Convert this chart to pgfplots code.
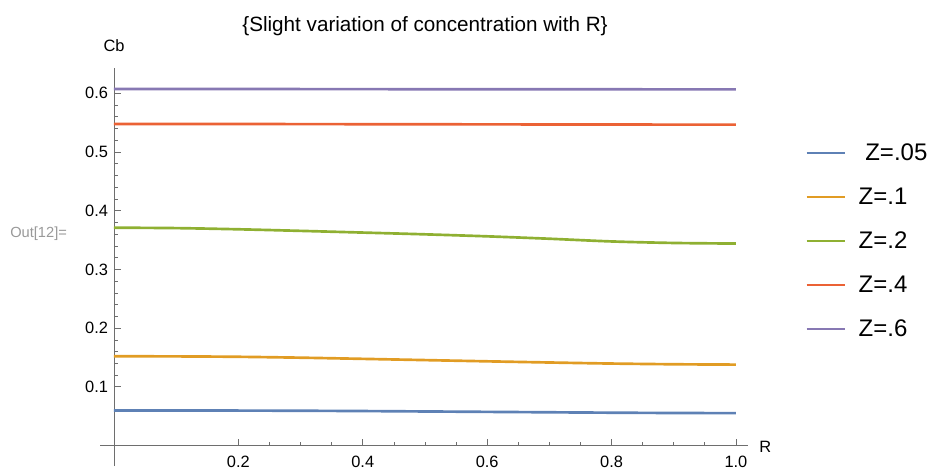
\documentclass[border=0pt]{standalone}
\usepackage{pgfplots}
\pgfplotsset{compat=1.18}
\usepackage{fontspec}
\setmainfont{Liberation Sans}

\definecolor{mblue}{HTML}{5E81B5}
\definecolor{morange}{HTML}{E19C24}
\definecolor{mgreen}{HTML}{8FB032}
\definecolor{mred}{HTML}{EB6235}
\definecolor{mpurple}{HTML}{8778B3}
\definecolor{axgray}{HTML}{6E6E6E}

\begin{document}
\begin{tikzpicture}
\useasboundingbox (0,0) rectangle (698.25pt,351.75pt);
\node[font=\fontsize{11}{13}\selectfont, text=black!40, anchor=west, inner sep=0pt] at (7.5pt,176.5pt) {Out[12]=};
\begin{axis}[
  at={(75pt,2.25pt)}, anchor=south west,
  scale only axis,
  width=485.8pt, height=298.5pt,
  xmin=-0.0225, xmax=1.019,
  ymin=-0.0349, ymax=0.643,
  axis lines=middle,
  axis line style={-, axgray, line width=0.6pt},
  every tick/.style={axgray, line width=0.5pt},
  tick align=inside,
  major tick length=5pt, minor tick length=3pt,
  xtick={0.2,0.4,0.6,0.8,1.0},
  ytick={0.1,0.2,0.3,0.4,0.5,0.6},
  minor x tick num=3, minor y tick num=4,
  /pgf/number format/fixed,
  /pgf/number format/fixed zerofill,
  /pgf/number format/precision=1,
  /pgf/number format/assume math mode=true,
  tick label style={font=\fontsize{12.3}{14}\selectfont, black},
  xticklabel style={anchor=north, yshift=-4pt},
  yticklabel style={anchor=east, xshift=-1pt},
  xlabel={R}, ylabel={Cb},
  xlabel style={at={(axis description cs:1.027,0.048)}, anchor=center, font=\fontsize{12.3}{14}\selectfont},
  ylabel style={at={(axis description cs:0.0216,1.055)}, anchor=center, rotate=0, font=\fontsize{12.3}{14}\selectfont},
  title={\{Slight variation of concentration with R\}},
  every axis title shift=0pt,
  title style={at={(axis description cs:0.5018,1.106)}, anchor=center, font=\fontsize{15.5}{18}\selectfont},
  clip=false,
  every axis plot/.append style={line width=2pt},
  legend style={at={(axis description cs:1.0823,0.8488)}, anchor=north west, draw=none, fill=none,
    font=\fontsize{18}{21}\selectfont, row sep=0pt, column sep=9pt,
    nodes={inner sep=0pt, minimum height=33pt}},
  legend cell align=left,
  legend image code/.code={\draw[#1, line width=2pt] (0pt,0pt) -- (29pt,0pt);},
  legend columns=1,
]
\addplot[mblue, smooth] coordinates {
 (0,0.0596) (0.1,0.0596) (0.2,0.0595) (0.3,0.0592) (0.4,0.0587) (0.5,0.0580)
 (0.6,0.0573) (0.7,0.0566) (0.8,0.0559) (0.9,0.0554) (1.0,0.0551)};
\addplot[morange, smooth] coordinates {
 (0,0.1520) (0.1,0.1518) (0.2,0.1511) (0.3,0.1496) (0.4,0.1476) (0.5,0.1455)
 (0.6,0.1434) (0.7,0.1414) (0.8,0.1396) (0.9,0.1384) (1.0,0.1378)};
\addplot[mgreen, smooth] coordinates {
 (0,0.3710) (0.1,0.3703) (0.2,0.3683) (0.3,0.3656) (0.4,0.3627) (0.5,0.3597)
 (0.6,0.3563) (0.7,0.3522) (0.8,0.3476) (0.9,0.3450) (1.0,0.3440)};
\addplot[mred] coordinates {
 (0,0.5477) (0.2,0.5476) (0.4,0.5473) (0.6,0.5470) (0.8,0.5467) (1.0,0.5465)};
\addplot[mpurple] coordinates {
 (0,0.6072) (0.2,0.6072) (0.4,0.6070) (0.6,0.6068) (0.8,0.6067) (1.0,0.6066)};
\legend{\ Z=.05, Z=.1, Z=.2, Z=.4, Z=.6}
\end{axis}
\end{tikzpicture}
\end{document}
